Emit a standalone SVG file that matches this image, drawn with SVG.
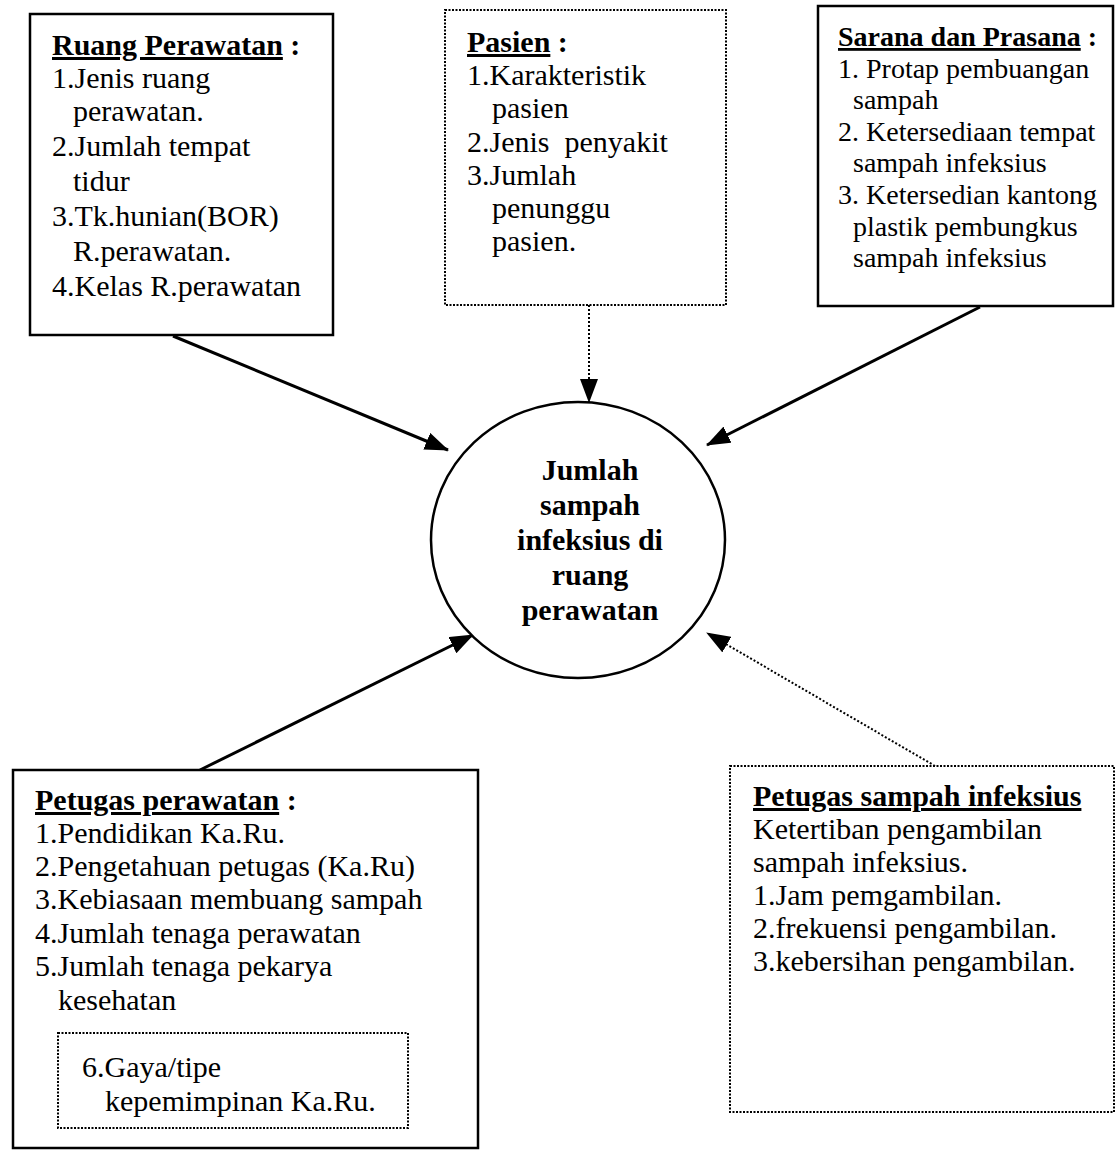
<svg xmlns="http://www.w3.org/2000/svg" width="1116" height="1150" viewBox="0 0 1116 1150">
<style>
text{font-family:"Liberation Serif","Times New Roman",serif;fill:#000;}
.t{font-size:30px;}
.s{font-size:28px;}
.b{font-weight:bold;}
.u{text-decoration:underline;}
.box{fill:#fff;stroke:#000;stroke-width:2.5;}
.dot{fill:#fff;stroke:#000;stroke-width:2;stroke-dasharray:2 1.5;}
.ln{stroke:#000;stroke-width:3;fill:none;}
.dl{stroke:#000;stroke-width:2;stroke-dasharray:2 2;fill:none;}
</style>
<defs>
<marker id="ah" markerUnits="userSpaceOnUse" markerWidth="24" markerHeight="18" refX="23" refY="9" orient="auto">
<path d="M0,0 L24,9 L0,18 z" fill="#000"/>
</marker>
</defs>
<rect width="1116" height="1150" fill="#fff"/>
<g id="connectors">
<line class="ln" x1="173" y1="336" x2="448" y2="450" marker-end="url(#ah)"/>
<line class="dl" x1="589" y1="305" x2="589" y2="402" marker-end="url(#ah)"/>
<line class="ln" x1="980" y1="307" x2="707" y2="445" marker-end="url(#ah)"/>
<line class="ln" x1="200" y1="770" x2="473" y2="635" marker-end="url(#ah)"/>
<line class="dl" x1="935" y1="766" x2="707" y2="633" marker-end="url(#ah)"/>
</g>
<g id="ruang">
<rect class="box" x="30" y="14" width="303" height="321"/>
<text class="t" x="52" y="55"><tspan class="b u">Ruang Perawatan</tspan><tspan class="b"> :</tspan></text>
<text class="t" x="52" y="88">1.Jenis ruang</text>
<text class="t" x="73" y="121">perawatan.</text>
<text class="t" x="52" y="156">2.Jumlah tempat</text>
<text class="t" x="73" y="191">tidur</text>
<text class="t" x="52" y="226">3.Tk.hunian(BOR)</text>
<text class="t" x="73" y="261">R.perawatan.</text>
<text class="t" x="52" y="296">4.Kelas R.perawatan</text>
</g>
<g id="pasien">
<rect class="dot" x="445" y="10" width="281" height="295"/>
<text class="t" x="467" y="52"><tspan class="b u">Pasien</tspan><tspan class="b"> :</tspan></text>
<text class="t" x="467" y="85">1.Karakteristik</text>
<text class="t" x="492" y="118">pasien</text>
<text class="t" x="467" y="152" xml:space="preserve">2.Jenis  penyakit</text>
<text class="t" x="467" y="185">3.Jumlah</text>
<text class="t" x="492" y="218">penunggu</text>
<text class="t" x="492" y="251">pasien.</text>
</g>
<g id="sarana">
<rect class="box" x="818" y="6" width="295" height="300"/>
<text class="s" x="838" y="46"><tspan class="b u">Sarana dan Prasana</tspan><tspan class="b"> :</tspan></text>
<text class="s" x="838" y="78">1. Protap pembuangan</text>
<text class="s" x="853" y="109">sampah</text>
<text class="s" x="838" y="141">2. Ketersediaan tempat</text>
<text class="s" x="853" y="172">sampah infeksius</text>
<text class="s" x="838" y="204">3. Ketersedian kantong</text>
<text class="s" x="853" y="236">plastik pembungkus</text>
<text class="s" x="853" y="267">sampah infeksius</text>
</g>
<g id="center">
<ellipse cx="578" cy="540" rx="147" ry="138" fill="#fff" stroke="#000" stroke-width="2.5"/>
<text class="t b" x="590" y="480" text-anchor="middle">Jumlah</text>
<text class="t b" x="590" y="515" text-anchor="middle">sampah</text>
<text class="t b" x="590" y="550" text-anchor="middle">infeksius di</text>
<text class="t b" x="590" y="585" text-anchor="middle">ruang</text>
<text class="t b" x="590" y="620" text-anchor="middle">perawatan</text>
</g>
<g id="petugas-perawatan">
<rect class="box" x="13" y="770" width="465" height="378"/>
<text class="t" x="35" y="810"><tspan class="b u">Petugas perawatan</tspan><tspan class="b"> :</tspan></text>
<text class="t" x="35" y="843">1.Pendidikan Ka.Ru.</text>
<text class="t" x="35" y="876">2.Pengetahuan petugas (Ka.Ru)</text>
<text class="t" x="35" y="909">3.Kebiasaan membuang sampah</text>
<text class="t" x="35" y="943">4.Jumlah tenaga perawatan</text>
<text class="t" x="35" y="976">5.Jumlah tenaga pekarya</text>
<text class="t" x="58" y="1010">kesehatan</text>
<g id="gaya">
<rect class="dot" x="58" y="1033" width="350" height="95"/>
<text class="t" x="82" y="1077">6.Gaya/tipe</text>
<text class="t" x="105" y="1111">kepemimpinan Ka.Ru.</text>
</g>
</g>
<g id="petugas-sampah">
<rect class="dot" x="730" y="766" width="384" height="346"/>
<text class="t b u" x="753" y="806">Petugas sampah infeksius</text>
<text class="t" x="753" y="839">Ketertiban pengambilan</text>
<text class="t" x="753" y="872">sampah infeksius.</text>
<text class="t" x="753" y="905">1.Jam pemgambilan.</text>
<text class="t" x="753" y="938">2.frekuensi pengambilan.</text>
<text class="t" x="753" y="971">3.kebersihan pengambilan.</text>
</g>
</svg>
